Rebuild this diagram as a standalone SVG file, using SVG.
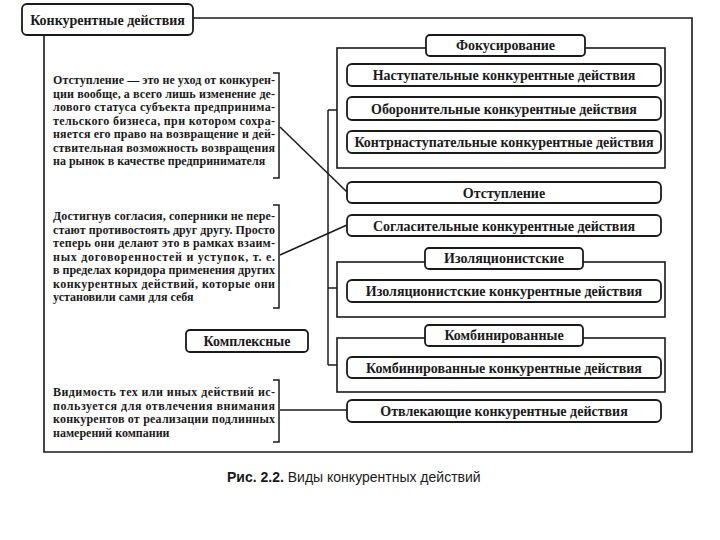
<svg xmlns="http://www.w3.org/2000/svg" width="720" height="540" viewBox="0 0 720 540">
<style>
.bg{fill:#ffffff}
.frame{fill:none;stroke:#1a1a1a;stroke-width:1.6}
.box{fill:#ffffff;stroke:#1a1a1a;stroke-width:1.8}
.lbl{font-family:"Liberation Serif","DejaVu Serif",serif;font-weight:bold;font-size:14px;fill:#1a1a1a;text-anchor:middle}
.para{font-family:"Liberation Serif","DejaVu Serif",serif;font-weight:bold;font-size:12px;fill:#1a1a1a}
.conn{fill:none;stroke:#1a1a1a;stroke-width:1.5}
.cap{font-family:"Liberation Sans","Arial",sans-serif;font-size:14px;fill:#1a1a1a}
</style>
<rect class="bg" x="0" y="0" width="720" height="540"/>

<g id="outer-frame">
<path class="frame" d="M193,18 H692 V452 H44 V35"/>
</g>

<g id="group-frames">
<rect class="frame" x="337" y="48" width="328" height="120"/>
<rect class="frame" x="337" y="262" width="328" height="55"/>
<rect class="frame" x="337" y="338" width="328" height="54"/>
</g>

<g id="connectors">
<path class="conn" d="M328,110 V365"/>
<path class="conn" d="M328,110 H337"/>
<path class="conn" d="M328,288 H337"/>
<path class="conn" d="M328,365 H337"/>
<path class="conn" d="M273,73 H279 V178 H273"/>
<path class="conn" d="M273,205 H279 V308 H273"/>
<path class="conn" d="M273,380 H279 V442 H273"/>
<path class="conn" d="M280,127 L347,192"/>
<path class="conn" d="M280,255 L347,225"/>
<path class="conn" d="M280,410 H347"/>
</g>

<g id="title">
<rect class="box" x="22" y="4" width="171" height="31" rx="5"/>
<text class="lbl" x="107.5" y="24.5">Конкурентные действия</text>
</g>

<g id="focus-label">
<rect class="box" x="426" y="35" width="159" height="21" rx="4"/>
<text class="lbl" x="505.5" y="50">Фокусирование</text>
</g>
<g id="offensive">
<rect class="box" x="347" y="64" width="314" height="22" rx="5"/>
<text class="lbl" x="504" y="80">Наступательные конкурентные действия</text>
</g>
<g id="defensive">
<rect class="box" x="347" y="97" width="314" height="23" rx="5"/>
<text class="lbl" x="504" y="113.5">Оборонительные конкурентные действия</text>
</g>
<g id="counter">
<rect class="box" x="347" y="131" width="314" height="22" rx="5"/>
<text class="lbl" x="504" y="147">Контрнаступательные конкурентные действия</text>
</g>
<g id="retreat">
<rect class="box" x="347" y="182" width="314" height="21" rx="5"/>
<text class="lbl" x="504" y="197.5">Отступление</text>
</g>
<g id="conciliatory">
<rect class="box" x="347" y="215" width="314" height="21" rx="5"/>
<text class="lbl" x="504" y="230.5">Согласительные конкурентные действия</text>
</g>
<g id="isolation-label">
<rect class="box" x="425" y="248" width="158" height="21" rx="4"/>
<text class="lbl" x="504" y="263">Изоляционистские</text>
</g>
<g id="isolation">
<rect class="box" x="347" y="280" width="314" height="22" rx="5"/>
<text class="lbl" x="504" y="296">Изоляционистские конкурентные действия</text>
</g>
<g id="complex">
<rect class="box" x="186" y="330" width="122" height="22" rx="4"/>
<text class="lbl" x="247" y="346">Комплексные</text>
</g>
<g id="combined-label">
<rect class="box" x="425" y="325" width="158" height="21" rx="4"/>
<text class="lbl" x="504" y="340">Комбинированные</text>
</g>
<g id="combined">
<rect class="box" x="347" y="357" width="314" height="21" rx="5"/>
<text class="lbl" x="504" y="372.5">Комбинированные конкурентные действия</text>
</g>
<g id="distracting">
<rect class="box" x="347" y="400" width="314" height="22" rx="5"/>
<text class="lbl" x="504" y="416">Отвлекающие конкурентные действия</text>
</g>

<g id="note-retreat">
<text class="para" x="53" y="84" textLength="222" lengthAdjust="spacing">Отступление — это не уход от конкурен-</text>
<text class="para" x="53" y="97.5" textLength="222" lengthAdjust="spacing">ции вообще, а всего лишь изменение де-</text>
<text class="para" x="53" y="111" textLength="222" lengthAdjust="spacing">лового статуса субъекта предпринима-</text>
<text class="para" x="53" y="124.5" textLength="222" lengthAdjust="spacing">тельского бизнеса, при котором сохра-</text>
<text class="para" x="53" y="138" textLength="222" lengthAdjust="spacing">няется его право на возвращение и дей-</text>
<text class="para" x="53" y="151.5" textLength="222" lengthAdjust="spacing">ствительная возможность возвращения</text>
<text class="para" x="53" y="165">на рынок в качестве предпринимателя</text>
</g>

<g id="note-conciliatory">
<text class="para" x="53" y="220" textLength="222" lengthAdjust="spacing">Достигнув согласия, соперники не пере-</text>
<text class="para" x="53" y="233.5" textLength="222" lengthAdjust="spacing">стают противостоять друг другу. Просто</text>
<text class="para" x="53" y="247" textLength="222" lengthAdjust="spacing">теперь они делают это в рамках взаим-</text>
<text class="para" x="53" y="260.5" textLength="222" lengthAdjust="spacing">ных договоренностей и уступок, т. е.</text>
<text class="para" x="53" y="274" textLength="222" lengthAdjust="spacing">в пределах коридора применения других</text>
<text class="para" x="53" y="287.5" textLength="222" lengthAdjust="spacing">конкурентных действий, которые они</text>
<text class="para" x="53" y="301">установили сами для себя</text>
</g>

<g id="note-distracting">
<text class="para" x="53" y="396" textLength="222" lengthAdjust="spacing">Видимость тех или иных действий ис-</text>
<text class="para" x="53" y="409.5" textLength="222" lengthAdjust="spacing">пользуется для отвлечения внимания</text>
<text class="para" x="53" y="423" textLength="222" lengthAdjust="spacing">конкурентов от реализации подлинных</text>
<text class="para" x="53" y="436.5">намерений компании</text>
</g>

<g id="caption">
<text class="cap" x="227" y="482"><tspan font-weight="bold">Рис. 2.2.</tspan> Виды конкурентных действий</text>
</g>
</svg>
